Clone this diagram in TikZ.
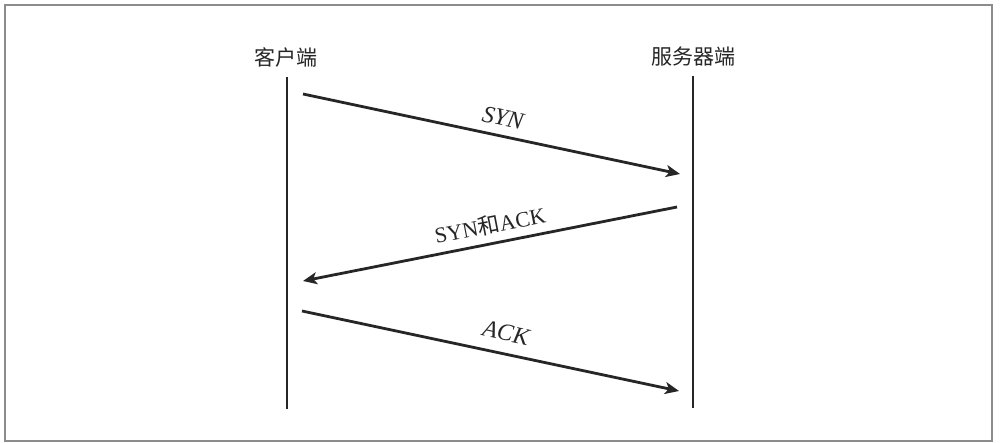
\documentclass[tikz,border=0pt]{standalone}
\usepackage{fontspec}
\setmainfont{Liberation Serif}
\newfontfamily\cjk{Noto Sans CJK SC}
\usetikzlibrary{arrows.meta}
\begin{document}
\begin{tikzpicture}[x=0.5pt,y=-0.5pt,
  lifeline/.style={line width=1.3pt, draw=black!85},
  msg/.style={line width=1.4pt, draw=black!85, -{Stealth[length=7pt,width=6pt,inset=1.8pt]}},
  who/.style={font=\cjk\fontsize{10.5}{12}\selectfont, text=black!85, inner sep=0pt},
  lbl/.style={font=\fontsize{12}{14}\selectfont\itshape, text=black!85, inner sep=0pt},
  lblup/.style={font=\fontsize{11}{13}\selectfont, text=black!85, inner sep=0pt}]
\useasboundingbox (0,0) rectangle (1000,443);
\fill[white] (0,0) rectangle (1000,443);
\draw[black!45, line width=0.6pt] (5,5) rectangle (992,441);
% lifeline labels
\node[who] (c) at (286,57) {客户端};
\node[who] (s) at (693,57) {服务器端};
% lifelines
\coordinate (ct) at (287,77);
\coordinate (cb) at (287,409);
\coordinate (st) at (693,76);
\coordinate (sb) at (693,408);
\draw[lifeline] (ct) -- (cb);
\draw[lifeline] (st) -- (sb);
% message end points
\coordinate (a1) at (303,94);
\coordinate (b1) at (680,174);
\coordinate (a2) at (677,207);
\coordinate (b2) at (303,281);
\coordinate (a3) at (302,311);
\coordinate (b3) at (679,391);
\draw[msg] (a1) -- (b1);
\draw[msg] (a2) -- (b2);
\draw[msg] (a3) -- (b3);
% labels
\node[lbl, rotate=-12] (l1) at (503,118) {SYN};
\node[lblup, rotate=11] (l2) at (490,225) {SYN{\cjk 和}ACK};
\node[lbl, rotate=-12] (l3) at (506,333) {ACK};
\end{tikzpicture}
\end{document}
